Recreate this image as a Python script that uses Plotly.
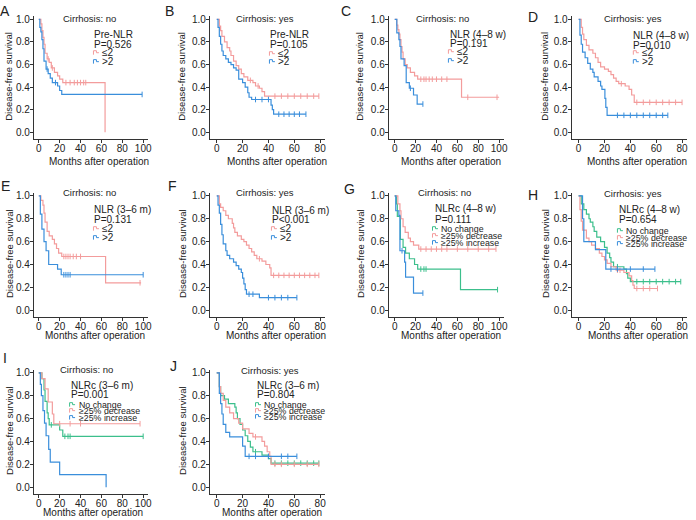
import plotly.graph_objects as go

W, H = 696, 520
RED = "#F39C9C"
BLUE = "#3A8EDB"
GREEN = "#3CBF8C"
TXT = "#222222"
FONT = "Liberation Sans, Arial, sans-serif"

# ---------------- data (times of events, survival after each event, last follow-up, censor times)
# A: Pre-NLR, cirrhosis no
a_le2_t = [2, 3, 4, 5, 6, 8, 10, 12, 15, 18, 20, 23, 63.5]
a_le2_s = [0.96, 0.90, 0.84, 0.78, 0.70, 0.65, 0.62, 0.57, 0.53, 0.50, 0.47, 0.44, 0.0]
a_le2_end = 63.5
a_le2_c = [9, 13, 26, 30, 34, 37, 40, 43, 45]
a_gt2_t = [1, 2, 3, 4, 5, 7, 9, 11, 13, 18, 20, 22]
a_gt2_s = [0.93, 0.89, 0.82, 0.74, 0.63, 0.56, 0.52, 0.48, 0.44, 0.41, 0.37, 0.335]
a_gt2_end = 99
a_gt2_c = [8, 16, 99]

# B: Pre-NLR, cirrhosis yes
b_le2_t = [2, 3, 4, 6, 8, 10, 11, 13, 15, 17, 19, 21, 24, 28, 30, 33, 35, 37]
b_le2_s = [0.94, 0.90, 0.85, 0.80, 0.75, 0.72, 0.68, 0.63, 0.59, 0.56, 0.52, 0.49, 0.46, 0.44, 0.41, 0.39, 0.36, 0.32]
b_le2_end = 79
b_le2_c = [26, 32, 45, 50, 55, 60, 65, 70, 75, 79]
b_gt2_t = [1, 2, 3, 4, 5, 7, 9, 11, 13, 15, 17, 20, 22, 24, 25, 27, 42, 43, 44]
b_gt2_s = [0.93, 0.85, 0.78, 0.72, 0.68, 0.65, 0.62, 0.60, 0.57, 0.55, 0.47, 0.44, 0.40, 0.35, 0.31, 0.29, 0.24, 0.20, 0.16]
b_gt2_end = 69
b_gt2_c = [30, 35, 40, 48, 52, 56, 60, 64, 69]

# C: NLR (4-8 w), cirrhosis no
c_le2_t = [2, 3, 4, 5, 6, 7, 8, 10, 12, 15, 19, 22, 64]
c_le2_s = [0.95, 0.91, 0.87, 0.82, 0.76, 0.71, 0.65, 0.60, 0.57, 0.53, 0.50, 0.47, 0.31]
c_le2_end = 100
c_le2_c = [25, 28, 30, 33, 36, 40, 45, 50, 70, 98]
c_gt2_t = [2, 4, 5, 6, 9, 11, 14, 18, 21.5]
c_gt2_s = [0.88, 0.82, 0.76, 0.65, 0.59, 0.44, 0.39, 0.33, 0.25]
c_gt2_end = 27
c_gt2_c = [15, 27]

# D: NLR (4-8 w), cirrhosis yes
d_le2_t = [2, 3, 4, 6, 8, 11, 13, 15, 17, 20, 23, 25, 27, 29, 31, 36, 39, 41, 43]
d_le2_s = [0.93, 0.87, 0.82, 0.77, 0.73, 0.70, 0.66, 0.62, 0.58, 0.56, 0.54, 0.51, 0.48, 0.45, 0.43, 0.41, 0.38, 0.33, 0.265]
d_le2_end = 80
d_le2_c = [33, 45, 50, 55, 60, 65, 70, 75, 80]
d_gt2_t = [1, 2, 3, 5, 7, 9, 11, 12, 15, 17, 18, 20.3, 21, 22]
d_gt2_s = [0.86, 0.78, 0.71, 0.66, 0.61, 0.56, 0.53, 0.49, 0.45, 0.41, 0.38, 0.30, 0.22, 0.15]
d_gt2_end = 69
d_gt2_c = [30, 35, 40, 45, 50, 55, 60, 65, 69]

# E: NLR (3-6 m), cirrhosis no
e_le2_t = [2, 4, 5, 6, 8, 10, 13, 15, 17, 19, 22, 64]
e_le2_s = [0.96, 0.92, 0.85, 0.77, 0.69, 0.65, 0.62, 0.58, 0.54, 0.50, 0.47, 0.24]
e_le2_end = 98
e_le2_c = [24, 26, 28, 30, 33, 36, 40, 97]
e_gt2_t = [1.5, 3, 5, 7, 9.5, 18, 21.5]
e_gt2_s = [0.84, 0.71, 0.60, 0.52, 0.40, 0.36, 0.31]
e_gt2_end = 100
e_gt2_c = [24, 26, 28, 30, 100]

# F: NLR (3-6 m), cirrhosis yes
f_le2_t = [2, 3, 5, 7, 9, 12, 13, 14, 16, 19, 21, 23, 25, 27, 29, 31, 35, 38, 41, 42]
f_le2_s = [0.93, 0.90, 0.87, 0.83, 0.80, 0.76, 0.72, 0.68, 0.65, 0.62, 0.60, 0.57, 0.54, 0.51, 0.48, 0.45, 0.43, 0.40, 0.37, 0.305]
f_le2_end = 79
f_le2_c = [33, 44, 48, 52, 56, 60, 64, 68, 72, 76, 79]
f_gt2_t = [1, 2, 3, 4, 5, 7, 8, 10, 13, 15, 17, 19, 20, 21, 22, 23, 33]
f_gt2_s = [0.92, 0.85, 0.75, 0.66, 0.58, 0.52, 0.48, 0.45, 0.42, 0.39, 0.36, 0.33, 0.28, 0.23, 0.18, 0.14, 0.11]
f_gt2_end = 62
f_gt2_c = [25, 28, 40, 45, 50, 55, 62]

# G: NLRc (4-8 w), cirrhosis no
g_nc_t = [1.6, 2.5, 5.4, 8, 10.4, 14, 19, 22, 63]
g_nc_s = [0.93, 0.82, 0.62, 0.55, 0.50, 0.45, 0.40, 0.36, 0.18]
g_nc_end = 98.5
g_nc_c = [25, 28, 30, 98.5]
g_dec_t = [3, 5, 6, 8, 10, 13, 15, 18, 23]
g_dec_s = [0.93, 0.87, 0.80, 0.73, 0.68, 0.63, 0.60, 0.57, 0.535]
g_dec_end = 97
g_dec_c = [25, 30, 35, 40, 45, 50, 60, 70, 80, 90, 97]
g_inc_t = [1, 4, 5, 9.5, 10.4, 18]
g_inc_s = [0.87, 0.83, 0.52, 0.42, 0.29, 0.15]
g_inc_end = 27
g_inc_c = [7, 27]

# H: NLRc (4-8 w), cirrhosis yes
h_nc_t = [2, 4, 6, 8, 9, 11, 12, 14, 17, 20, 22, 24, 25, 27, 35, 37, 38, 40]
h_nc_s = [0.93, 0.88, 0.84, 0.80, 0.77, 0.73, 0.69, 0.64, 0.60, 0.55, 0.50, 0.46, 0.42, 0.38, 0.36, 0.32, 0.28, 0.25]
h_nc_end = 79
h_nc_c = [30, 45, 50, 55, 60, 65, 70, 75, 79]
h_dec_t = [1, 2, 3, 6, 8, 10, 13, 16, 18, 20, 22, 25, 29, 35, 39, 41, 42, 43]
h_dec_s = [0.88, 0.78, 0.70, 0.63, 0.60, 0.57, 0.54, 0.50, 0.47, 0.44, 0.41, 0.38, 0.35, 0.33, 0.30, 0.26, 0.22, 0.19]
h_dec_end = 61
h_dec_c = [30, 32, 45, 50, 55, 61]
h_inc_t = [3, 4, 13, 21]
h_inc_s = [0.80, 0.60, 0.53, 0.36]
h_inc_end = 59
h_inc_c = [25, 30, 40, 50, 59]

# I: NLRc (3-6 m), cirrhosis no
i_nc_t = [3, 5, 6, 8, 9, 10, 20, 23]
i_nc_s = [0.95, 0.85, 0.75, 0.65, 0.60, 0.545, 0.50, 0.445]
i_nc_end = 100
i_nc_c = [12, 25, 28, 30, 100]
i_dec_t = [3, 6, 9, 13, 14.4]
i_dec_s = [0.95, 0.86, 0.745, 0.64, 0.555]
i_dec_end = 97
i_dec_c = [20, 30, 40, 97]
i_inc_t = [1.5, 2.5, 4, 5.5, 7, 9.5, 11, 20, 64.5]
i_inc_s = [0.90, 0.80, 0.67, 0.56, 0.45, 0.33, 0.22, 0.11, 0.0]
i_inc_end = 64.5
i_inc_c = []

# J: NLRc (3-6 m), cirrhosis yes
j_nc_t = [2, 3, 6, 9, 14, 15, 16, 18, 20, 22, 24, 26, 28, 35, 40, 42]
j_nc_s = [0.88, 0.80, 0.77, 0.73, 0.70, 0.65, 0.60, 0.55, 0.50, 0.45, 0.40, 0.35, 0.31, 0.28, 0.25, 0.21]
j_nc_end = 79
j_nc_c = [30, 45, 50, 55, 60, 65, 70, 75, 79]
j_dec_t = [2, 3, 5, 7, 10, 13, 17, 20, 25, 28, 35, 37, 39, 41, 42]
j_dec_s = [0.88, 0.82, 0.76, 0.70, 0.65, 0.60, 0.56, 0.51, 0.47, 0.44, 0.40, 0.36, 0.31, 0.27, 0.20]
j_dec_end = 79
j_dec_c = [30, 45, 50, 60, 70, 79]
j_inc_t = [2, 3, 4, 5, 7, 10, 20, 22]
j_inc_s = [0.82, 0.73, 0.64, 0.55, 0.48, 0.44, 0.36, 0.27]
j_inc_end = 62
j_inc_c = [25, 30, 40, 50, 55, 62]

y_ticks = [0.0, 0.2, 0.4, 0.6, 0.8, 1.0]
x_ticks_100 = [0, 20, 40, 60, 80, 100]
x_ticks_80 = [0, 20, 40, 60, 80]

LE2, GT2 = "≤2", ">2"
NC, DEC, INC = "No change", "≥25% decrease", "≥25% increase"

# ---------------- layout geometry (pixels)
COL = [  # y-axis line x, x=0 pixel, x=max pixel, y-title x
    dict(yl=34, x0=39, xm=144, yt=9),
    dict(yl=211, x0=218, xm=322, yt=183),
    dict(yl=391, x0=397, xm=502, yt=362),
    dict(yl=575, x0=582, xm=686, yt=548),
]
ROW = [  # y=1 pixel, y=0 pixel, x-axis line y, x-title y
    dict(y1=16.5, y0=130, xl=137, xt=159),
    dict(y1=194, y0=309, xl=316, xt=334),
    dict(y1=372, y0=487, xl=494, xt=512),
]

panels = [
    dict(L="A", Lxy=(5, 8), c=0, r=0, M=100, cir="Cirrhosis: no", cxy=(90, 16), ttl="Pre-NLR", txy=(93, 32), p="P=0.526", py=42,
         lx=94, ly=[50, 59], lfs=10, xt=100,
         g=[(LE2, RED, a_le2_t, a_le2_s, a_le2_end, a_le2_c), (GT2, BLUE, a_gt2_t, a_gt2_s, a_gt2_end, a_gt2_c)]),
    dict(L="B", Lxy=(170, 8), c=1, r=0, M=80, cir="Cirrhosis: yes", cxy=(267, 16), ttl="Pre-NLR", txy=(270, 32), p="P=0.105", py=42,
         lx=271, ly=[51, 59], lfs=10, xt=279,
         g=[(LE2, RED, b_le2_t, b_le2_s, b_le2_end, b_le2_c), (GT2, BLUE, b_gt2_t, b_gt2_s, b_gt2_end, b_gt2_c)]),
    dict(L="C", Lxy=(348, 8), c=2, r=0, M=100, cir="Cirrhosis: no", cxy=(445, 16), ttl="NLR (4–8 w)", txy=(451, 32), p="P=0.191", py=41,
         lx=451, ly=[49, 58], lfs=10, xt=454,
         g=[(LE2, RED, c_le2_t, c_le2_s, c_le2_end, c_le2_c), (GT2, BLUE, c_gt2_t, c_gt2_s, c_gt2_end, c_gt2_c)]),
    dict(L="D", Lxy=(536, 14), c=3, r=0, M=80, cir="Cirrhosis: yes", cxy=(637, 16), ttl="NLR (4–8 w)", txy=(635, 33), p="P=0.010", py=43,
         lx=637, ly=[50, 59], lfs=10, xt=641,
         g=[(LE2, RED, d_le2_t, d_le2_s, d_le2_end, d_le2_c), (GT2, BLUE, d_gt2_t, d_gt2_s, d_gt2_end, d_gt2_c)]),
    dict(L="E", Lxy=(6, 184), c=0, r=1, M=100, cir="Cirrhosis: no", cxy=(90, 191), ttl="NLR (3–6 m)", txy=(93, 208), p="P=0.131", py=218,
         lx=94, ly=[227, 236], lfs=10, xt=96,
         g=[(LE2, RED, e_le2_t, e_le2_s, e_le2_end, e_le2_c), (GT2, BLUE, e_gt2_t, e_gt2_s, e_gt2_end, e_gt2_c)]),
    dict(L="F", Lxy=(173, 184), c=1, r=1, M=80, cir="Cirrhosis: yes", cxy=(267, 191), ttl="NLR (3–6 m)", txy=(272, 209), p="P<0.001", py=218,
         lx=273, ly=[227, 236], lfs=10, xt=278,
         g=[(LE2, RED, f_le2_t, f_le2_s, f_le2_end, f_le2_c), (GT2, BLUE, f_gt2_t, f_gt2_s, f_gt2_end, f_gt2_c)]),
    dict(L="G", Lxy=(352, 187), c=2, r=1, M=100, cir="Cirrhosis: no", cxy=(447, 191), ttl="NLRc (4–8 w)", txy=(435, 207), p="P=0.111", py=218,
         lx=435, ly=[227, 234, 241], lfs=8.8, xt=454,
         g=[(NC, GREEN, g_nc_t, g_nc_s, g_nc_end, g_nc_c), (DEC, RED, g_dec_t, g_dec_s, g_dec_end, g_dec_c),
            (INC, BLUE, g_inc_t, g_inc_s, g_inc_end, g_inc_c)]),
    dict(L="H", Lxy=(536, 193), c=3, r=1, M=80, cir="Cirrhosis: yes", cxy=(637, 192), ttl="NLRc (4–8 w)", txy=(621, 208), p="P=0.654", py=218,
         lx=621, ly=[229, 236, 242], lfs=8.8, xt=642,
         g=[(NC, GREEN, h_nc_t, h_nc_s, h_nc_end, h_nc_c), (DEC, RED, h_dec_t, h_dec_s, h_dec_end, h_dec_c),
            (INC, BLUE, h_inc_t, h_inc_s, h_inc_end, h_inc_c)]),
    dict(L="I", Lxy=(5, 357), c=0, r=2, M=100, cir="Cirrhosis: no", cxy=(87, 369), ttl="NLRc (3–6 m)", txy=(69, 385), p="P=0.001", py=394,
         lx=70, ly=[404, 410, 417], lfs=8.8, xt=94,
         g=[(NC, GREEN, i_nc_t, i_nc_s, i_nc_end, i_nc_c), (DEC, RED, i_dec_t, i_dec_s, i_dec_end, i_dec_c),
            (INC, BLUE, i_inc_t, i_inc_s, i_inc_end, i_inc_c)]),
    dict(L="J", Lxy=(174, 365), c=1, r=2, M=80, cir="Cirrhosis: yes", cxy=(272, 370), ttl="NLRc (3–6 m)", txy=(256, 385), p="P=0.804", py=394,
         lx=257, ly=[404, 410, 416], lfs=8.8, xt=274,
         g=[(NC, GREEN, j_nc_t, j_nc_s, j_nc_end, j_nc_c), (DEC, RED, j_dec_t, j_dec_s, j_dec_end, j_dec_c),
            (INC, BLUE, j_inc_t, j_inc_s, j_inc_end, j_inc_c)]),
]


def px(x):
    return x / W


def py_(y):
    return 1 - y / H


def surv_at(t, s, c):
    v = 1.0
    for ti, si in zip(t, s):
        if ti <= c:
            v = si
    return v


fig = go.Figure()
annotations = []
shapes = []

for i, P in enumerate(panels, start=1):
    cg, rg = COL[P["c"]], ROW[P["r"]]
    M = P["M"]
    k = (cg["xm"] - cg["x0"]) / M
    xmin = (cg["yl"] - cg["x0"]) / k
    xmax = M + 5 / k
    s_ = rg["y0"] - rg["y1"]
    ymin = -(rg["xl"] - rg["y0"]) / s_
    ymax = 1 + 3 / s_
    xa = "xaxis" if i == 1 else f"xaxis{i}"
    ya = "yaxis" if i == 1 else f"yaxis{i}"
    xr = "x" if i == 1 else f"x{i}"
    yr = "y" if i == 1 else f"y{i}"
    common = dict(showgrid=False, zeroline=False, showline=True, linecolor="#333", linewidth=1,
                  ticks="outside", ticklen=3, tickwidth=1, tickcolor="#333",
                  tickfont=dict(family=FONT, size=10, color=TXT))
    fig.update_layout(**{
        xa: dict(domain=[px(cg["yl"]), px(cg["xm"] + 5)], range=[xmin, xmax], anchor=yr,
                 tickvals=x_ticks_100 if M == 100 else x_ticks_80, ticklabelstandoff=-3, **common),
        ya: dict(domain=[py_(rg["xl"]), py_(rg["y1"] - 3)], range=[ymin, ymax], anchor=xr,
                 tickvals=y_ticks, tickformat=".1f", ticklabelstandoff=-2, **common),
    })
    for name, col, t, s, end, cens in P["g"]:
        fig.add_trace(go.Scatter(x=[0] + list(t) + [end], y=[1] + list(s) + [s[-1]],
                                 mode="lines", line=dict(color=col, width=1.2, shape="hv"),
                                 xaxis=xr, yaxis=yr, name=name, showlegend=False))
        if cens:
            fig.add_trace(go.Scatter(x=cens, y=[surv_at(t, s, c) for c in cens], mode="markers",
                                     marker=dict(symbol="line-ns", size=4, line=dict(color=col, width=1)),
                                     xaxis=xr, yaxis=yr, showlegend=False))
    # texts
    def ann(x, y, text, size=10, xanchor="left", color=TXT, **kw):
        annotations.append(dict(x=px(x), y=py_(y), xref="paper", yref="paper", text=text, showarrow=False,
                                xanchor=xanchor, yanchor="middle", font=dict(family=FONT, size=size, color=color), **kw))

    ann(P["Lxy"][0], P["Lxy"][1], P["L"], size=14, xanchor="center")
    ann(P["cxy"][0], P["cxy"][1], P["cir"], size=9.5, xanchor="center")
    ann(P["txy"][0], P["txy"][1], P["ttl"], size=10)
    ann(P["txy"][0], P["py"], P["p"], size=10)
    ann(P["xt"], rg["xt"], "Months after operation", size=10, xanchor="center")
    ann(cg["yt"], (rg["y1"] + rg["y0"]) / 2, "Disease-free survival", size=9.5, xanchor="center", textangle=-90)
    for (name, col, *_), ly in zip(P["g"], P["ly"]):
        gx = P["lx"]
        path = (f"M {px(gx)} {py_(ly + 2)} L {px(gx)} {py_(ly - 2)} L {px(gx + 3)} {py_(ly - 2)} "
                f"L {px(gx + 3)} {py_(ly)} L {px(gx + 5.5)} {py_(ly)}")
        shapes.append(dict(type="path", xref="paper", yref="paper", path=path,
                           line=dict(color=col, width=1)))
        ann(gx + 7, ly, name, size=P["lfs"])

fig.update_layout(width=W, height=H, margin=dict(l=0, r=0, t=0, b=0), showlegend=False,
                  paper_bgcolor="white", plot_bgcolor="white",
                  annotations=annotations, shapes=shapes)
fig.write_html("out.html", config={"displayModeBar": False},
               post_script="document.body.style.margin='0';document.body.style.padding='0';")
